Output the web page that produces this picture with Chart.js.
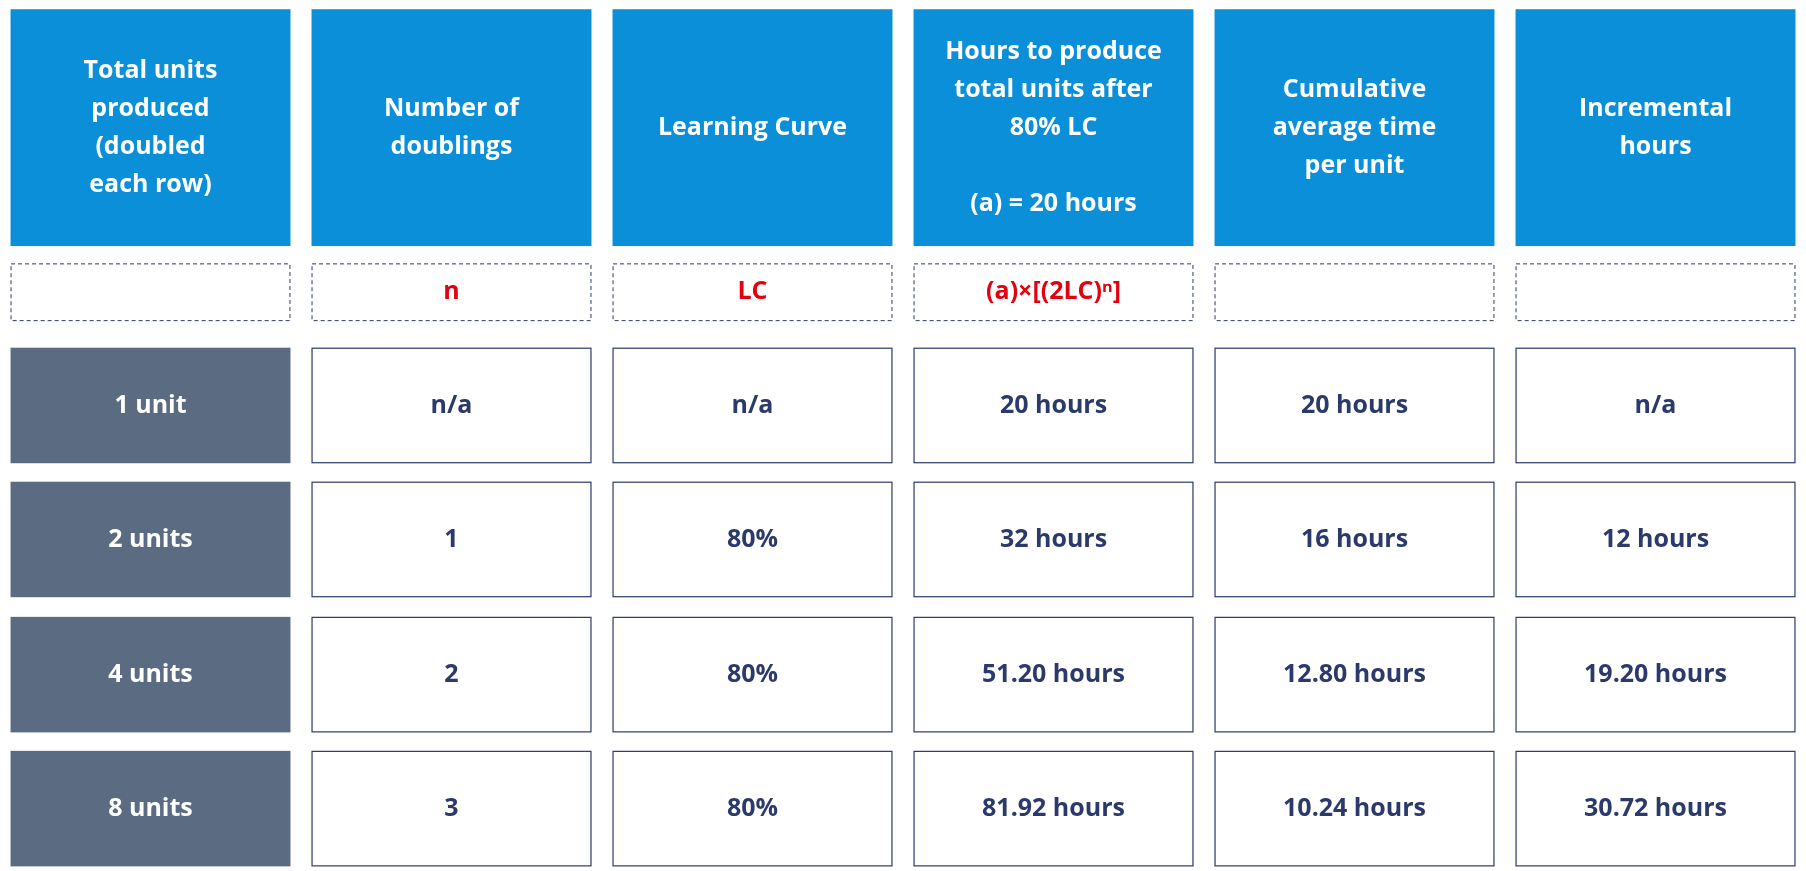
<!DOCTYPE html>
<html><head><meta charset="utf-8">
<script src="https://cdn.jsdelivr.net/npm/chart.js@4.4.1/dist/chart.umd.min.js"></script>
<style>html,body{margin:0;padding:0;background:#fff;}#wrap{width:1806px;height:871px;}</style>
</head><body><div id="wrap"><canvas id="c"></canvas></div>
<script>
const headers = [
  ["Total units","produced","(doubled","each row)"],
  ["Number of","doublings"],
  ["Learning Curve"],
  ["Hours to produce","total units after","80% LC","","(a) = 20 hours"],
  ["Cumulative","average time","per unit"],
  ["Incremental","hours"]
];
const formulas = ["", "n", "LC", "(a)×[(2LC)ⁿ]", "", ""];
const unitsLabels = ["1 unit","2 units","4 units","8 units"];
const doublings = ["n/a","1","2","3"];
const learningCurve = ["n/a","80%","80%","80%"];
const totalHours = ["20 hours","32 hours","51.20 hours","81.92 hours"];
const cumulativeAvg = ["20 hours","16 hours","12.80 hours","10.24 hours"];
const incremental = ["n/a","12 hours","19.20 hours","30.72 hours"];

const rowBands = [[8,213],[228,278],[301,401],[417,517],[534,634],[650,750]];
const dataCols = [unitsLabels, doublings, learningCurve, totalHours, cumulativeAvg, incremental];

const tablePlugin = {
  id:'table',
  afterDraw(chart){
    const ctx = chart.ctx, xs = chart.scales.x, ys = chart.scales.y;
    const inset = 0.035;
    const font = "bold 25px 'Open Sans', 'Noto Sans', sans-serif";
    function cell(col,row){
      const x0 = xs.getPixelForValue(col+inset), x1 = xs.getPixelForValue(col+1-inset);
      const y0 = ys.getPixelForValue(rowBands[row][0]), y1 = ys.getPixelForValue(rowBands[row][1]);
      return {x:x0,y:y0,w:x1-x0,h:y1-y0};
    }
    ctx.save();
    ctx.textAlign='center'; ctx.textBaseline='middle';
    for(let c=0;c<6;c++){
      // header
      let r = cell(c,0);
      ctx.fillStyle='#0A8FD8'; ctx.fillRect(r.x,r.y,r.w,r.h);
      ctx.fillStyle='#fff'; ctx.font=font;
      const lines=headers[c], lh=38, top=r.y+r.h/2-(lines.length-1)*lh/2;
      lines.forEach((t,i)=>ctx.fillText(t,r.x+r.w/2,top+i*lh));
      // formula row
      r = cell(c,1);
      ctx.setLineDash([4,3]); ctx.strokeStyle='#2B3A6B'; ctx.lineWidth=1;
      ctx.strokeRect(r.x+0.5,r.y+0.5,r.w-1,r.h-1); ctx.setLineDash([]);
      ctx.fillStyle='#E3000F'; ctx.fillText(formulas[c],r.x+r.w/2,r.y+r.h/2);
      // data rows
      for(let k=0;k<4;k++){
        r = cell(c,k+2);
        if(c===0){ ctx.fillStyle='#5B6B82'; ctx.fillRect(r.x,r.y,r.w,r.h); ctx.fillStyle='#fff'; }
        else { ctx.strokeStyle='#2B3A6B'; ctx.lineWidth=1.2; ctx.strokeRect(r.x+0.5,r.y+0.5,r.w-1,r.h-1); ctx.fillStyle='#2B3A6B'; }
        ctx.fillText(dataCols[c][k],r.x+r.w/2,r.y+r.h/2);
      }
    }
    ctx.restore();
  }
};

new Chart(document.getElementById('c'),{
  type:'scatter',
  data:{datasets:[{data:[],pointRadius:0}]},
  options:{
    responsive:true, maintainAspectRatio:false, animation:false,
    layout:{padding:0},
    plugins:{legend:{display:false},tooltip:{enabled:false}},
    scales:{
      x:{type:'linear',min:0,max:6,display:false},
      y:{type:'linear',min:0,max:754,reverse:true,display:false}
    }
  },
  plugins:[tablePlugin]
});
</script></body></html>
